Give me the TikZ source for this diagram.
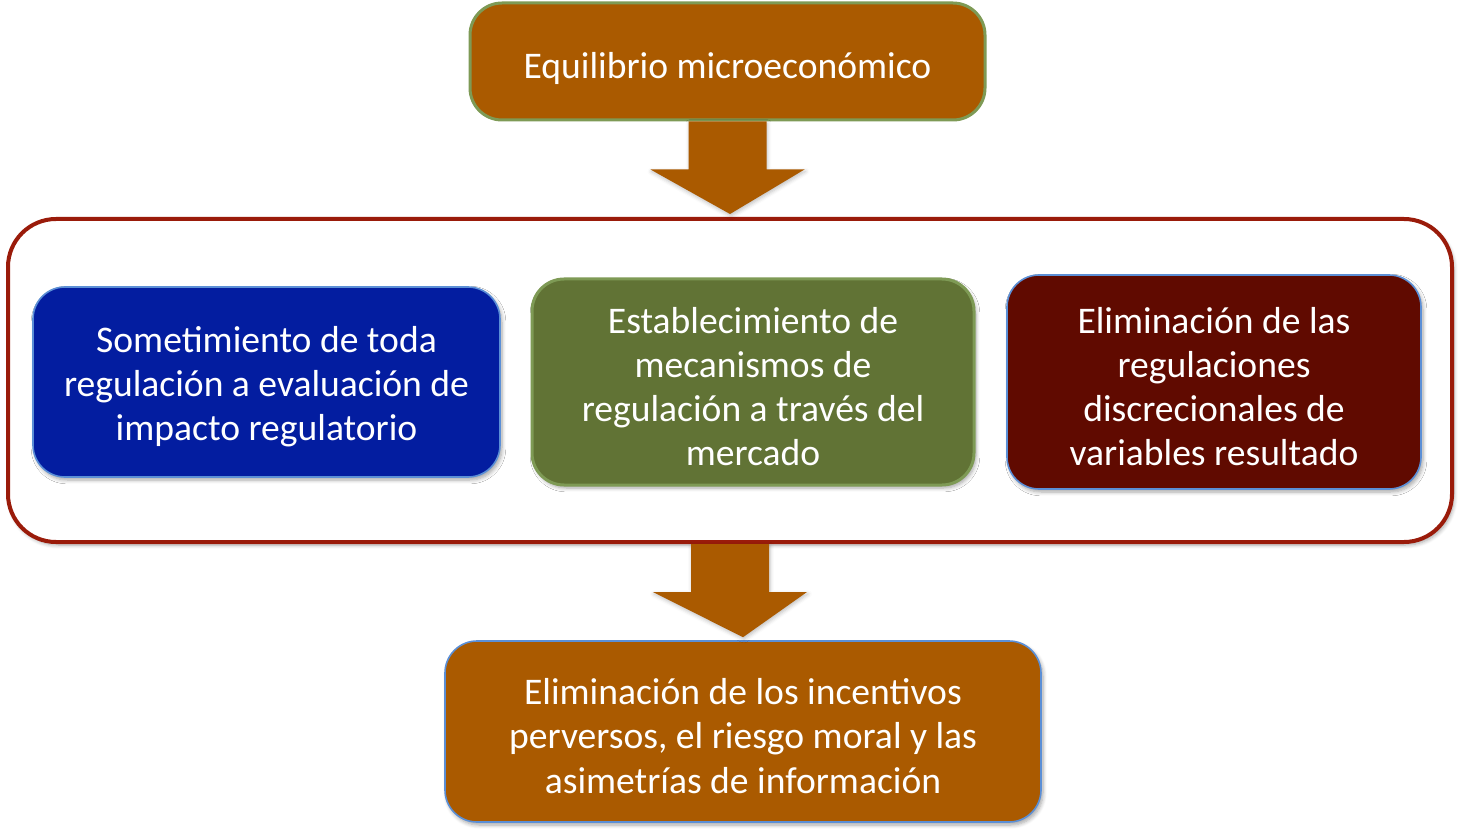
\documentclass[tikz,border=0pt]{standalone}
\usepackage{fontspec}
\setmainfont{Carlito}
\usetikzlibrary{calc,shadows.blur}

\definecolor{ocre}{RGB}{170,90,0}
\definecolor{azul}{RGB}{3,29,160}
\definecolor{verde}{RGB}{97,115,53}
\definecolor{verdeborde}{RGB}{126,154,85}
\definecolor{granate}{RGB}{96,10,0}
\definecolor{marco}{RGB}{154,27,10}
\definecolor{celeste}{RGB}{91,143,214}

% taller first line, to set the text a little lower in its box
\newcommand{\arriba}{\rule{0pt}{17.5pt}}

% block arrow from the bottom of one node to the top of the next
\newcommand{\flecha}[2]{%
  \fill[ocre,blur shadow={shadow blur steps=4,shadow xshift=0.5pt,
      shadow yshift=-1pt,shadow opacity=25}]
    ($(#1.south)+(-39,0)$) -- ($(#1.south)+(39,0)$)
    -- ($(#1.south)+(39,48)$) -- ($(#1.south)+(77,48)$)
    -- ($(#2.north)+(0,-3)$)
    -- ($(#1.south)+(-77,48)$) -- ($(#1.south)+(-39,48)$) -- cycle;}

\begin{document}
\begin{tikzpicture}[x=0.5pt,y=-0.5pt,
    caja/.style={rectangle,rounded corners=16pt,line width=1.5pt,
      text=white,align=center,inner sep=0pt,
      font=\fontsize{18.8}{22.1}\selectfont},
    sombra/.style={blur shadow={shadow blur steps=6,shadow xshift=1pt,
      shadow yshift=-1.5pt,shadow opacity=35}}]
   \useasboundingbox (0,0) rectangle (1462,834);
   \node[draw=marco,fill=white,line width=2pt,rounded corners=24pt,
     minimum width=722pt,minimum height=161.5pt,sombra] (marco) at (730,380.5) {};
   \node[caja,fill=ocre,draw=verdeborde,minimum width=257.5pt,
     minimum height=58.5pt,execute at begin node={\rule{0pt}{20pt}}]
     (equilibrio) at (727.5,61.5) {Equilibrio microeconómico};
   \node[caja,fill=azul,draw=celeste,line width=0.8pt,minimum width=233.5pt,
     minimum height=95pt,sombra] (evaluacion) at (266.5,382)
     {\arriba Sometimiento de toda\\regulación a evaluación de\\impacto regulatorio};
   \node[caja,fill=verde,draw=verdeborde,minimum width=221pt,
     minimum height=103pt,sombra] (mercado) at (753,382)
     {\arriba Establecimiento de\\mecanismos de\\regulación a través del\\mercado};
   \node[caja,fill=granate,draw=celeste,line width=0.8pt,minimum width=207pt,
     minimum height=107pt,sombra] (discrecion) at (1214,382)
     {\arriba Eliminación de las\\regulaciones\\discrecionales de\\variables resultado};
   \node[caja,fill=ocre,draw=celeste,line width=0.8pt,minimum width=298pt,
     minimum height=90.5pt,sombra] (incentivos) at (743,731.5)
     {\arriba Eliminación de los incentivos\\perversos, el riesgo moral y las\\asimetrías de información};
   \flecha{equilibrio}{marco}
   \flecha{marco}{incentivos}
\end{tikzpicture}
\end{document}
